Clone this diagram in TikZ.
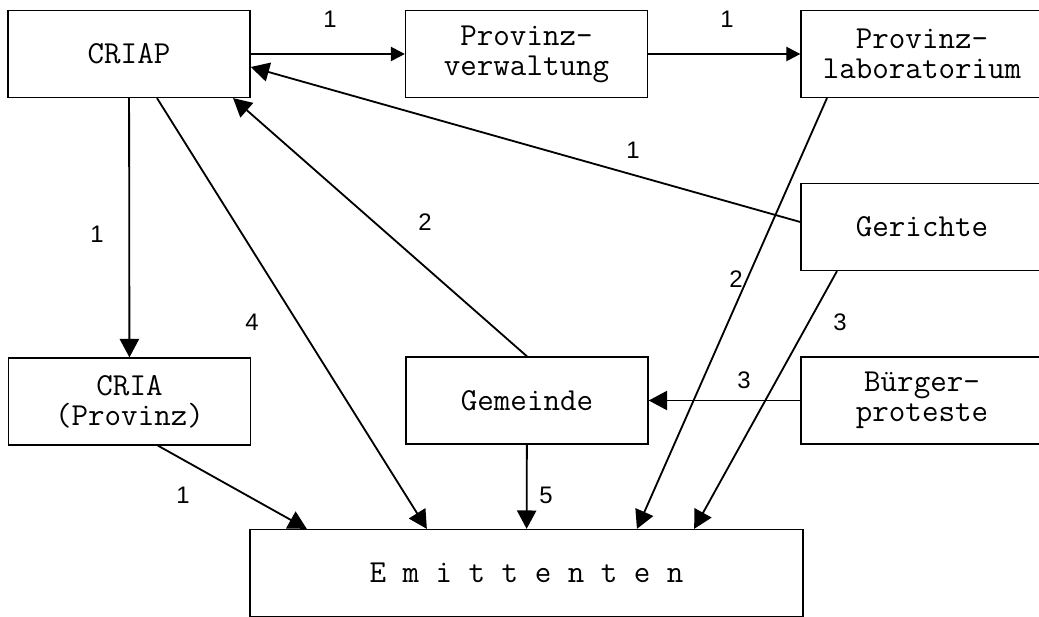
\documentclass[tikz,border=0pt]{standalone}
\usepackage{fontspec}
\usetikzlibrary{positioning,arrows.meta}
\newfontfamily\ziffer{Liberation Sans}

\begin{document}
\begin{tikzpicture}[x=0.025cm,y=-0.025cm,
	kasten/.style={draw,line width=1pt,inner sep=0pt,minimum width=6.05cm,minimum height=2.17cm,align=center,font=\ttfamily\fontsize{22.8}{21.5}\selectfont},
	pfeil/.style={line width=1.3pt,-{Triangle[length=0.46cm,width=0.48cm]}},
	kpfeil/.style={line width=1pt,-{Triangle[length=0.35cm,width=0.36cm]}},
	zahl/.style={font=\ziffer\fontsize{17}{17}\selectfont,inner sep=0pt}]
	\clip (0,0) rectangle (1039,617);
	%% Kästen
	\node[kasten] (criap) at (129,54) {CRIAP};
	\node[kasten] (verw) at (526.5,54) {Provinz-\\verwaltung};
	\node[kasten] (labor) at (922,54) {Provinz-\\laboratorium};
	\node[kasten] (gericht) at (922,227) {Gerichte};
	\node[kasten] (cria) at (129.5,401.5) {CRIA\\(Provinz)};
	\node[kasten] (gem) at (527,400.5) {Gemeinde};
	\node[kasten] (buerger) at (922,400.5) {Bürger-\\proteste};
	\node[kasten,minimum width=13.83cm] (emit) at (526.5,573) {E m i t t e n t e n};
	% Zahlen an den Pfeilen
	\node[zahl] (z1) at (330,19) {1};
	\node[zahl] (z2) at (727,19) {1};
	\node[zahl] (z3) at (633,150) {1};
	\node[zahl] (z4) at (97,234) {1};
	\node[zahl] (z5) at (252,322) {4};
	\node[zahl] (z6) at (425,222) {2};
	\node[zahl] (z7) at (736,279) {2};
	\node[zahl] (z8) at (840,322) {3};
	\node[zahl] (z9) at (744,380) {3};
	\node[zahl] (z10) at (546,495) {5};
	\node[zahl] (z11) at (183,495) {1};
	% Verbindungen
	\draw[kpfeil] (criap) -- (verw);
	\draw[kpfeil] (verw) -- (labor);
	\draw[pfeil] ([yshift=0.125cm]gericht.west) -- ([yshift=-0.325cm]criap.east);
	\draw[pfeil] (criap) -- (cria);
	\draw[pfeil] ([xshift=0.7cm]criap.south) -- ([xshift=-2.49cm]emit.north);
	\draw[pfeil] (gem.north) -- ([xshift=2.6cm]criap.south);
	\draw[pfeil] ([xshift=-2.375cm]labor.south) -- ([xshift=2.76cm]emit.north);
	\draw[pfeil] ([xshift=-2.125cm]gericht.south) -- ([xshift=4.19cm]emit.north);
	\draw[pfeil] (buerger) -- (gem);
	\draw[pfeil] (gem) -- (emit);
	\draw[pfeil] ([xshift=0.71cm]cria.south) -- ([xshift=-5.49cm]emit.north);
\end{tikzpicture}
\end{document}
